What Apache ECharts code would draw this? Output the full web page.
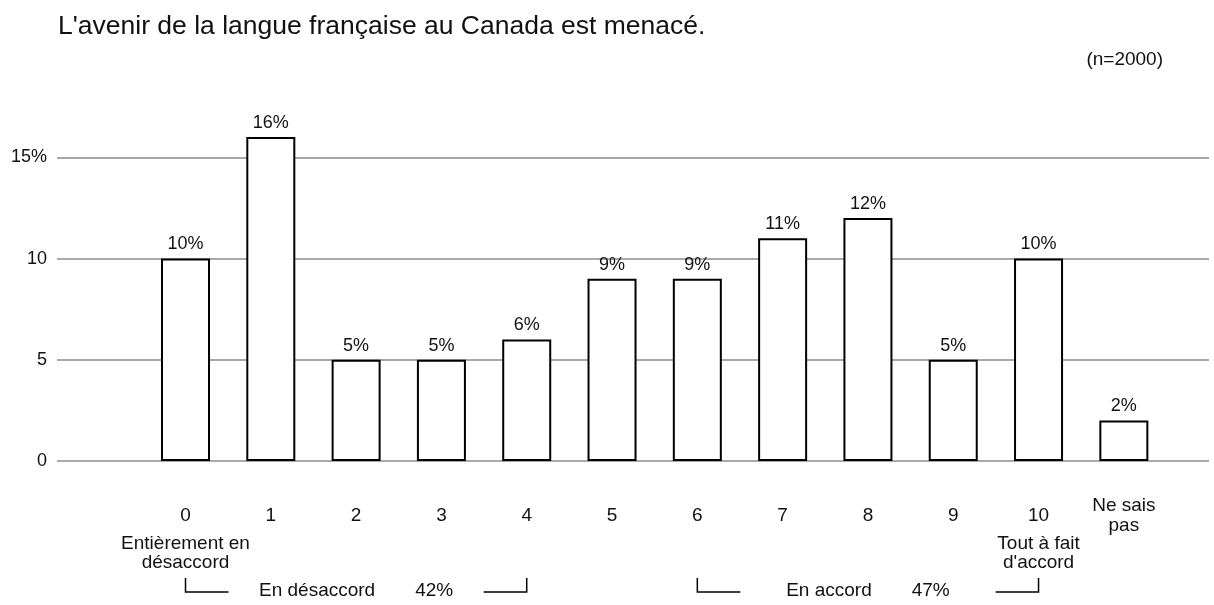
<!DOCTYPE html>
<html>
<head>
<meta charset="utf-8">
<script src="https://cdn.jsdelivr.net/npm/echarts@6/dist/echarts.min.js"></script>
<style>
  html, body { margin: 0; padding: 0; background: #fff; }
  #chart { width: 1214px; height: 605px; }
</style>
</head>
<body>
<div id="chart"></div>
<script>
// Survey question and sample size
const titleText = "L'avenir de la langue française au Canada est menacé.";
const sampleNote = '(n=2000)';

// Scale points 0–10 plus "don't know"
const categories = ['0', '1', '2', '3', '4', '5', '6', '7', '8', '9', '10', 'Ne sais\npas'];
// Share of respondents (%) at each point
const shares = [10, 16, 5, 5, 6, 9, 9, 11, 12, 5, 10, 2];
// Value-axis tick labels
const yTicks = [0, 5, 10, 15];

// Scale anchors written under both ends
const lowAnchor = 'Entièrement en\ndésaccord';
const highAnchor = "Tout à fait\nd'accord";

// Grouped totals shown beneath the axis (indices into categories)
const groups = [
  { name: 'En désaccord', from: 0, to: 4 },
  { name: 'En accord', from: 6, to: 10 }
];

const FONT = '"Liberation Sans", Arial, Helvetica, sans-serif';
const INK = '#111';
const chart = echarts.init(document.getElementById('chart'), null, { renderer: 'canvas' });

const PLOT_BOTTOM = 144;

chart.setOption({
  animation: false,
  backgroundColor: '#fff',
  textStyle: { fontFamily: FONT },
  title: [
    { text: titleText, left: 53, top: 8,
      textStyle: { fontSize: 26.5, fontWeight: 'normal', color: INK, fontFamily: FONT } },
    { text: sampleNote, right: 46, top: 45,
      textStyle: { fontSize: 19, fontWeight: 'normal', color: INK, fontFamily: FONT } }
  ],
  grid: [
    // wide grid carrying the horizontal rules and the value labels
    { left: 57, right: 5, top: 157.3, bottom: PLOT_BOTTOM },
    // narrower grid holding the bars
    { left: 142.85, right: 47.5, top: 137, bottom: PLOT_BOTTOM }
  ],
  xAxis: [
    { gridIndex: 0, type: 'value', min: 0, max: 1, show: false },
    { gridIndex: 1, type: 'category', data: categories,
      axisLine: { show: false }, axisTick: { show: false },
      axisLabel: { interval: 0, margin: 55, verticalAlign: 'middle', lineHeight: 20,
                   fontSize: 19, color: INK, fontFamily: FONT } }
  ],
  yAxis: [
    { gridIndex: 0, type: 'value', min: yTicks[0], max: yTicks[yTicks.length - 1], interval: 5,
      axisLine: { show: false }, axisTick: { show: false },
      axisLabel: { margin: 10, fontSize: 18, color: INK, fontFamily: FONT,
                   formatter: v => (v === yTicks[yTicks.length - 1] ? v + '%' : String(v)) },
      splitLine: { show: true, lineStyle: { color: '#8c8c8c', width: 1.5 } } },
    { gridIndex: 1, type: 'value', min: 0, max: 16, show: false }
  ],
  series: [
    { type: 'line', xAxisIndex: 0, yAxisIndex: 0, data: [], silent: true },
    { type: 'bar', xAxisIndex: 1, yAxisIndex: 1, data: shares, barWidth: 49,
      itemStyle: { color: '#fff', borderColor: '#000', borderWidth: 2 },
      label: { show: true, position: 'top', distance: 5, formatter: '{c}%',
               fontSize: 18, color: INK, fontFamily: FONT } }
  ]
});

// Annotations beneath the axis, placed from the category axis positions
const cx = i => chart.convertToPixel({ xAxisIndex: 1 }, i);
const textStyle = (text, align) => ({
  text, align, verticalAlign: 'middle', fill: INK,
  fontSize: 19, fontFamily: FONT, lineHeight: 19
});

const graphics = [
  { type: 'text', x: cx(0), y: 553, style: textStyle(lowAnchor, 'center') },
  { type: 'text', x: cx(10), y: 553, style: textStyle(highAnchor, 'center') }
];

const BR_TOP = 578, BR_Y = 592, ARM = 43;
groups.forEach(g => {
  const x0 = cx(g.from), x1 = cx(g.to);
  const total = shares.slice(g.from, g.to + 1).reduce((a, b) => a + b, 0);
  graphics.push(
    { type: 'polyline', shape: { points: [[x0, BR_TOP], [x0, BR_Y], [x0 + ARM, BR_Y]] },
      style: { stroke: '#000', lineWidth: 1.5, fill: null } },
    { type: 'polyline', shape: { points: [[x1 - ARM, BR_Y], [x1, BR_Y], [x1, BR_TOP]] },
      style: { stroke: '#000', lineWidth: 1.5, fill: null } },
    { type: 'text', x: (x0 + x1) / 2, y: 591,
      style: {
        text: '{n|' + g.name + '}{t|' + total + '%}',
        align: 'center', verticalAlign: 'middle', fill: INK,
        fontSize: 19, fontFamily: FONT,
        rich: {
          n: { fontSize: 19, fontFamily: FONT, fill: INK },
          t: { fontSize: 19, fontFamily: FONT, fill: INK, padding: [0, 0, 0, 40] }
        }
      } }
  );
});

chart.setOption({ graphic: graphics });
</script>
</body>
</html>
